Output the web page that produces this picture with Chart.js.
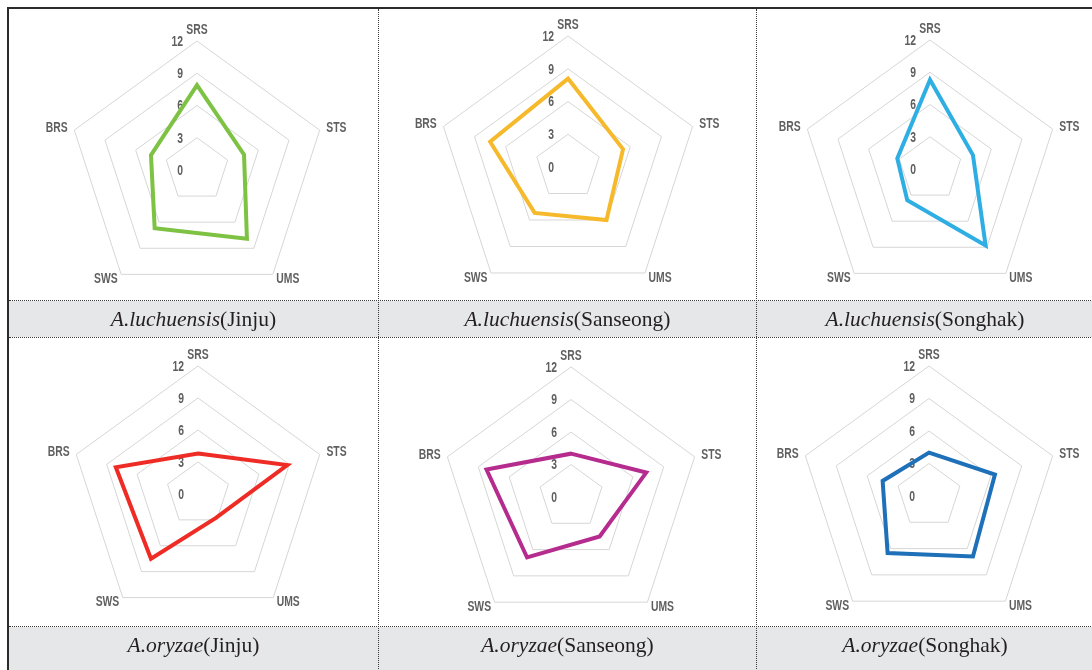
<!DOCTYPE html>
<html>
<head>
<meta charset="utf-8">
<script src="https://cdn.jsdelivr.net/npm/chart.js@4.4.1/dist/chart.umd.min.js"></script>
<style>
  html, body { margin: 0; padding: 0; background: #fff; }
  #sheet { position: relative; width: 1092px; height: 670px; overflow: hidden; background: #fff; }
  .band { position: absolute; left: 9px; width: 1090px; background: #e6e7e8; }
  .hline { position: absolute; left: 9px; width: 1090px; height: 0; border-top: 1px dotted #3a3a3a; }
  .vline { position: absolute; top: 9px; height: 670px; width: 0; border-left: 1px dotted #3a3a3a; }
  .edge { position: absolute; background: #2b2b2b; }
  .cap { position: absolute; height: 36px; line-height: 36px; text-align: center; white-space: nowrap;
         font-family: "Liberation Serif", "Times New Roman", serif; font-size: 21.5px; color: #231f20; }
  .cap i { font-style: italic; }
  canvas { position: absolute; }
</style>
</head>
<body>
<div id="sheet">
  <div class="band" style="top:301px;height:36px"></div>
  <div class="band" style="top:627px;height:50px"></div>
  <div class="hline" style="top:300px"></div>
  <div class="hline" style="top:337px"></div>
  <div class="hline" style="top:626px"></div>
  <div class="vline" style="left:378px"></div>
  <div class="vline" style="left:756px"></div>
  <div class="edge" style="left:7px;top:7px;width:1090px;height:2px"></div>
  <div class="edge" style="left:7px;top:7px;width:2px;height:670px"></div>
</div>
<script>
// Sensory attributes on the five radar axes
const axes = ['SRS', 'STS', 'UMS', 'SWS', 'BRS'];
const ringTicks = [0, 3, 6, 9, 12];

// Scores per strain and site (order follows `axes`)
const luchuensisJinju    = [7.9, 4.6, 7.9, 6.7, 4.5];
const luchuensisSanseong = [8.1, 5.3, 6.0, 5.2, 7.5];
const luchuensisSonghak  = [8.3, 4.2, 8.8, 3.6, 3.2];
const oryzaeJinju        = [3.8, 8.8, 2.8, 7.5, 8.1];
const oryzaeSanseong     = [4.0, 7.3, 4.5, 6.9, 8.2];
const oryzaeSonghak      = [4.0, 6.4, 6.9, 6.5, 4.5];

const species = ['A.luchuensis', 'A.luchuensis', 'A.luchuensis', 'A.oryzae', 'A.oryzae', 'A.oryzae'];
const sites   = ['Jinju', 'Sanseong', 'Songhak', 'Jinju', 'Sanseong', 'Songhak'];
const series  = [luchuensisJinju, luchuensisSanseong, luchuensisSonghak, oryzaeJinju, oryzaeSanseong, oryzaeSonghak];
const colors  = ['#7dc243', '#f6b92b', '#2eaee3', '#ee2b24', '#b52b8e', '#1e70b8'];

// Panel placement: canvas corner, radar radius and caption cell
const CW = 340, CH = 300;
const panels = [
  { left: 27,  top: 20,  radius: 129, cell: [9, 378],    capTop: 301 },
  { left: 398, top: 17,  radius: 131, cell: [379, 756],  capTop: 301 },
  { left: 760, top: 19,  radius: 129, cell: [757, 1093], capTop: 301 },
  { left: 28,  top: 344, radius: 128, cell: [9, 378],    capTop: 627 },
  { left: 401, top: 347, radius: 130, cell: [379, 756],  capTop: 627 },
  { left: 759, top: 346, radius: 130, cell: [757, 1093], capTop: 627 }
];

const labelFont = 'bold 14px "Liberation Sans", Arial, sans-serif';
const labelColor = '#5f5f5f';
const squeeze = 0.74;               // narrow lettering for axis and ring labels
const axisPad = [11, 7, 6, 6, 7];   // gap between outer ring vertex and its name

function narrowText(ctx, text, x, y, align) {
  ctx.save();
  ctx.translate(x, y);
  ctx.scale(squeeze, 1);
  ctx.textAlign = align;
  ctx.fillText(text, 0, 0);
  ctx.restore();
}

// Axis names and ring values, placed from the radial scale
const radarText = {
  id: 'radarText',
  beforeDatasetsDraw(chart) {
    const s = chart.scales.r;
    const ctx = chart.ctx;
    ctx.save();
    ctx.font = labelFont;
    ctx.fillStyle = labelColor;
    ctx.textBaseline = 'middle';
    chart.data.labels.forEach((name, i) => {
      const p = s.getPointPosition(i, s.drawingArea + axisPad[i]);
      const sin = Math.sin(s.getIndexAngle(i));
      const align = Math.abs(sin) < 0.01 ? 'center' : (sin > 0 ? 'left' : 'right');
      narrowText(ctx, name, p.x, p.y, align);
    });
    s.ticks.forEach(t => {
      const d = s.getDistanceFromCenterForValue(t.value);
      narrowText(ctx, String(t.value), s.xCenter - 14, s.yCenter - d + 1, 'right');
    });
    ctx.restore();
  }
};

const sheet = document.getElementById('sheet');

panels.forEach((p, i) => {
  const cv = document.createElement('canvas');
  cv.width = CW; cv.height = CH;
  cv.style.left = p.left + 'px';
  cv.style.top = p.top + 'px';
  sheet.appendChild(cv);

  const padV = CH / 2 - p.radius, padH = CW / 2 - p.radius;

  new Chart(cv.getContext('2d'), {
    type: 'radar',
    data: {
      labels: axes,
      datasets: [{
        data: series[i],
        borderColor: colors[i],
        borderWidth: 4,
        fill: false,
        pointRadius: 0,
        pointHoverRadius: 0,
        tension: 0
      }]
    },
    options: {
      responsive: false,
      animation: false,
      devicePixelRatio: 1,
      layout: { padding: { top: padV, bottom: padV, left: padH, right: padH } },
      plugins: { legend: { display: false }, tooltip: { enabled: false }, title: { display: false } },
      scales: {
        r: {
          min: 0,
          max: 12,
          afterBuildTicks(scale) { scale.ticks = ringTicks.map(v => ({ value: v })); },
          ticks: { display: false, stepSize: 3 },
          angleLines: { display: false },
          grid: { color: '#d6d6d6', lineWidth: 1, circular: false },
          pointLabels: { display: false }
        }
      }
    },
    plugins: [radarText]
  });

  const cap = document.createElement('div');
  cap.className = 'cap';
  cap.style.left = p.cell[0] + 'px';
  cap.style.width = (p.cell[1] - p.cell[0]) + 'px';
  cap.style.top = p.capTop + 'px';
  const it = document.createElement('i');
  it.textContent = species[i];
  cap.appendChild(it);
  cap.appendChild(document.createTextNode('(' + sites[i] + ')'));
  sheet.appendChild(cap);
});
</script>
</body>
</html>
